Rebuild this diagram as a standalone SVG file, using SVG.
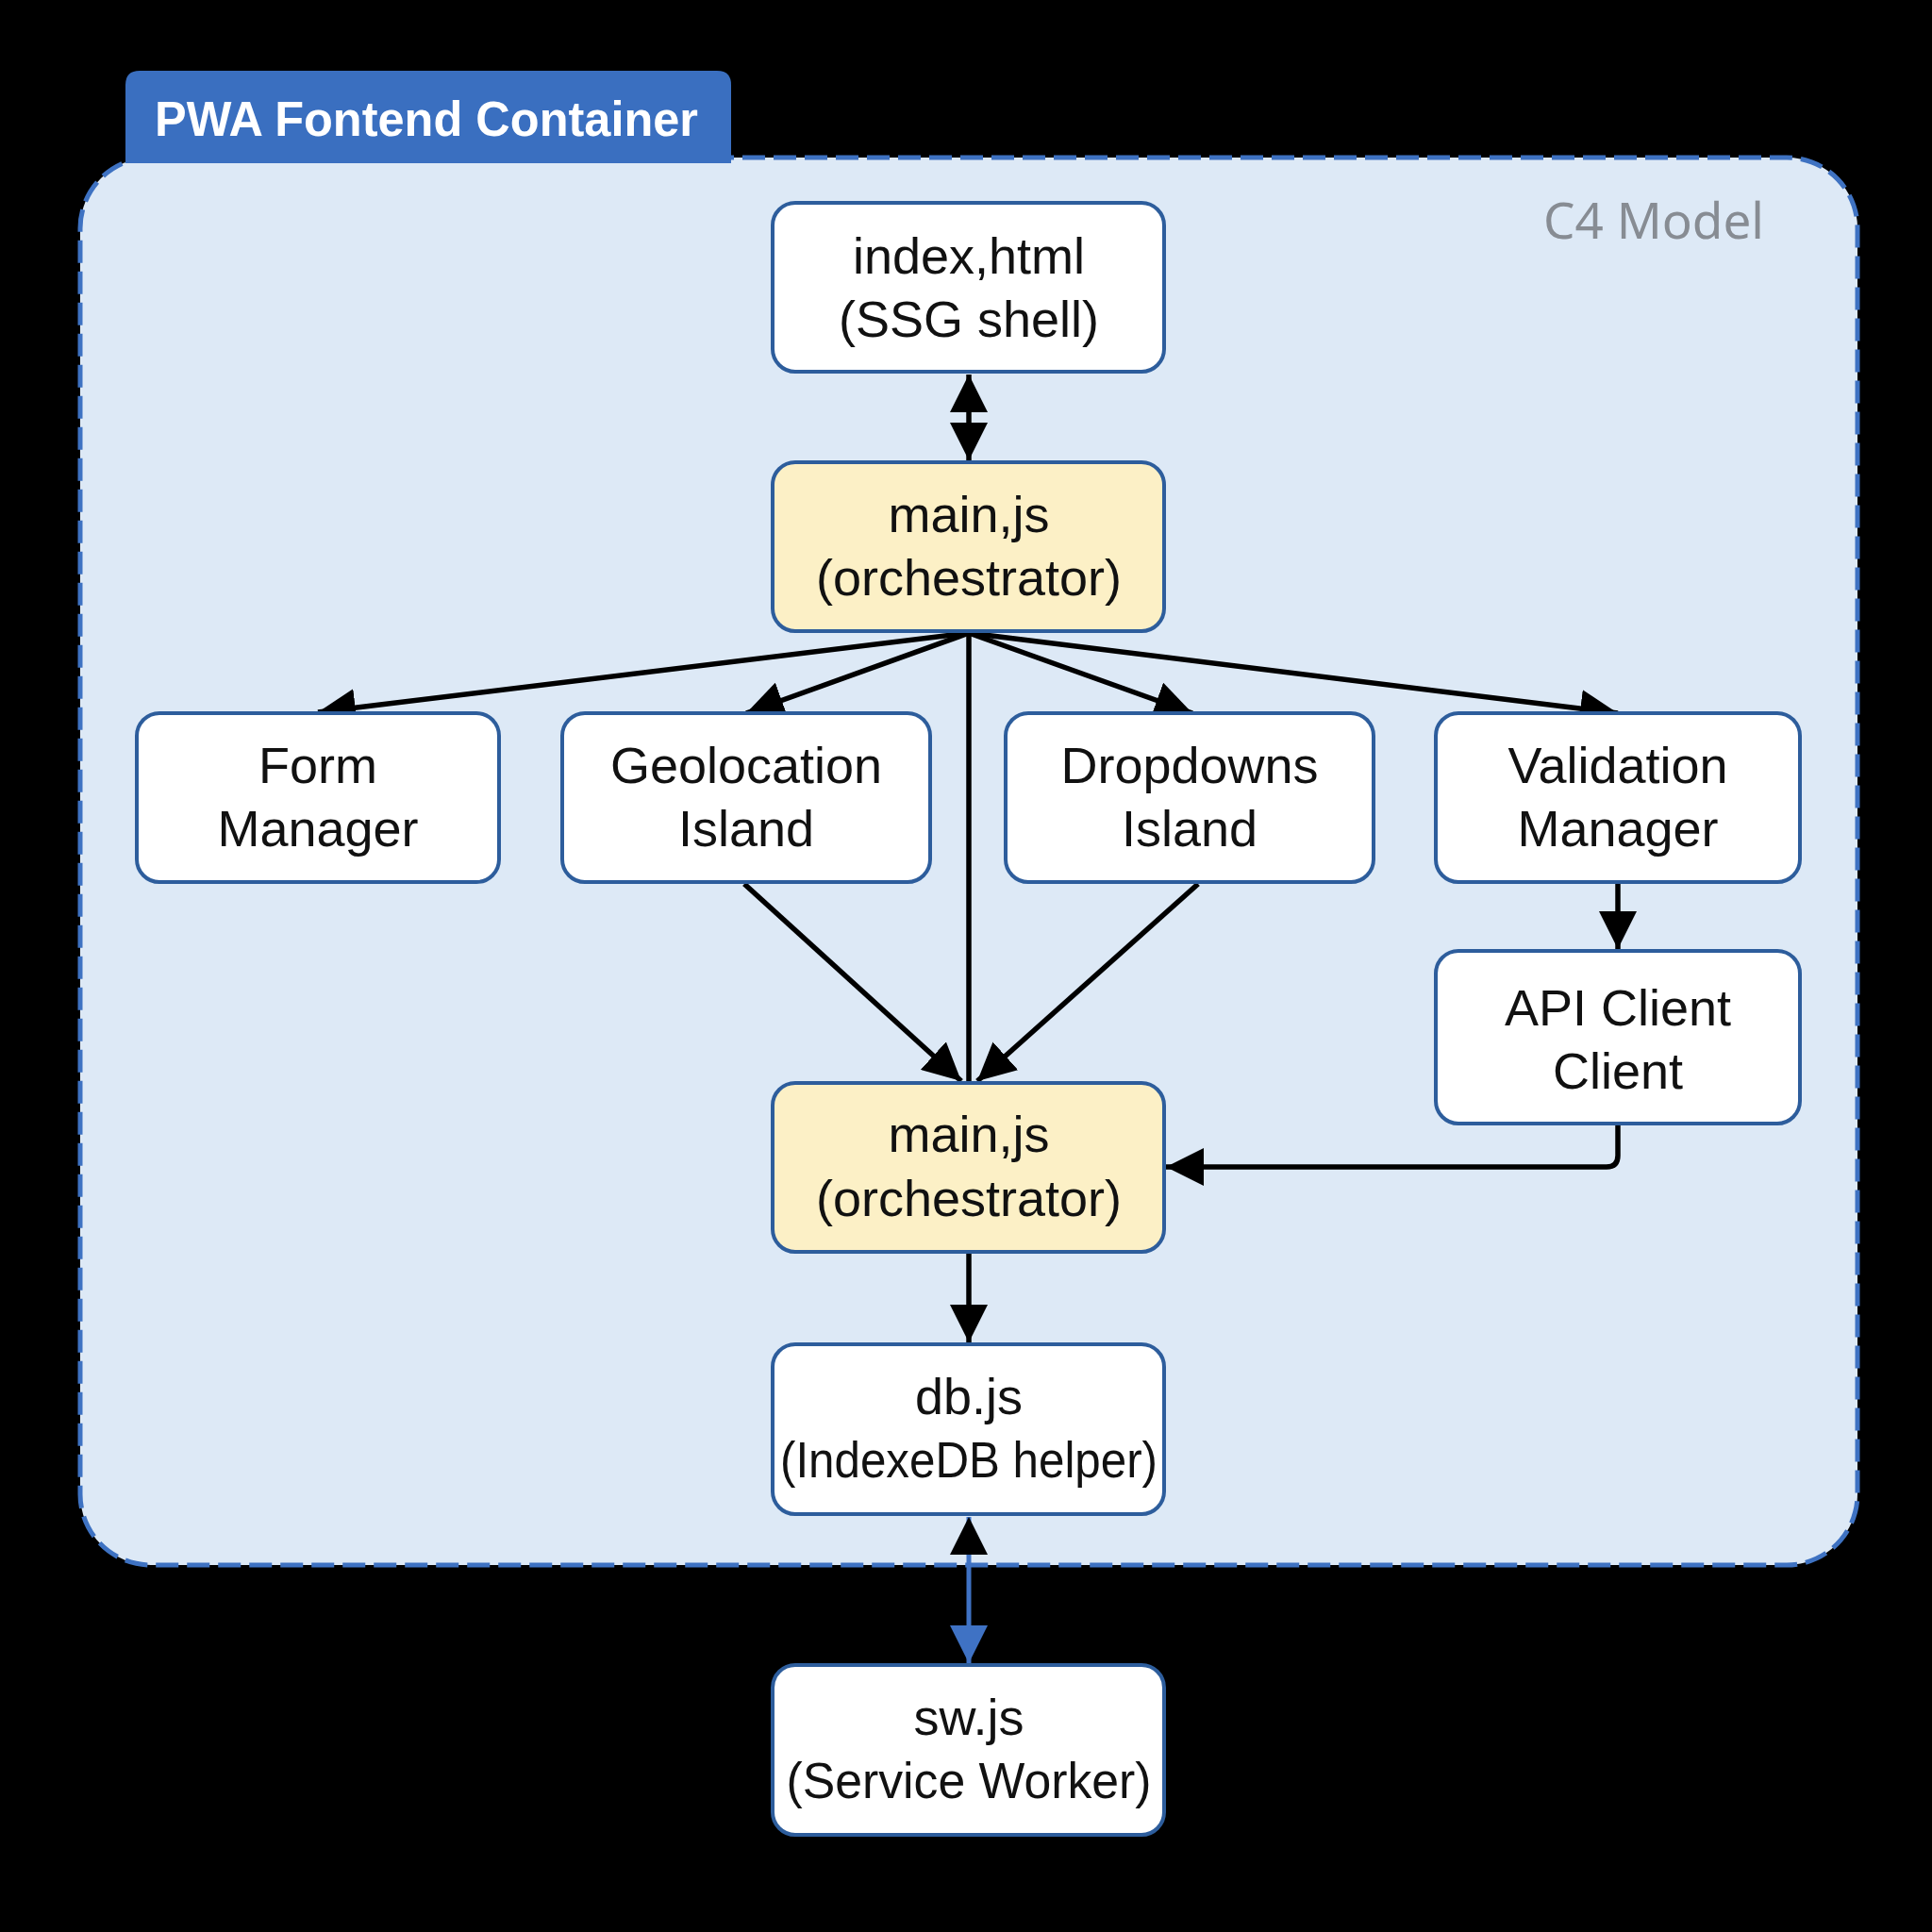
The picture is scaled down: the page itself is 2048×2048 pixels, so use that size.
<svg xmlns="http://www.w3.org/2000/svg" width="2048" height="2048" viewBox="0 0 2048 2048">
<style>
.node{fill:#ffffff;stroke:#2d5d9c;stroke-width:4}
.hub{fill:#fcf0c6;stroke:#2d5d9c;stroke-width:4}
.lbl{font-family:"Liberation Sans",Arial,sans-serif;font-size:54px;fill:#111;text-anchor:middle}
.edge{fill:none;stroke:#000;stroke-width:5.5}
</style>
<defs>
<marker id="ah" viewBox="0 0 10 10" refX="10" refY="5" markerWidth="40" markerHeight="40" markerUnits="userSpaceOnUse" orient="auto-start-reverse"><path d="M0,0 L10,5 L0,10 Z" fill="#000"/></marker>
<marker id="ahb" viewBox="0 0 10 10" refX="10" refY="5" markerWidth="40" markerHeight="40" markerUnits="userSpaceOnUse" orient="auto-start-reverse"><path d="M0,0 L10,5 L0,10 Z" fill="#3f72c4"/></marker>
</defs>
<rect x="0" y="0" width="2048" height="2048" fill="#000"/>
<g id="container">
<rect x="85" y="167" width="1884" height="1492" rx="75" ry="75" fill="#dde9f6" stroke="#3e72c2" stroke-width="5" stroke-dasharray="24 9"/>
<path d="M133,173 L133,90 Q133,75 148,75 L760,75 Q775,75 775,90 L775,173 Z" fill="#3a6fc0"/>
<text x="164" y="144" font-family="Liberation Sans,Arial,sans-serif" font-weight="bold" font-size="52" fill="#fff" textLength="576" lengthAdjust="spacingAndGlyphs">PWA Fontend Container</text>
<text x="1870" y="253" font-family="'Noto Sans','Open Sans',sans-serif" font-size="53" fill="#878c93" text-anchor="end">C4 Model</text>
</g>
<g id="connectors">
<path class="edge" d="M1027,397 L1027,488" stroke-width="6" marker-start="url(#ah)" marker-end="url(#ah)"/>
<path class="edge" d="M1027,671 L337,755" marker-end="url(#ah)"/>
<path class="edge" d="M1027,671 L791,756" marker-end="url(#ah)"/>
<path class="edge" d="M1027,671 L1264,756" marker-end="url(#ah)"/>
<path class="edge" d="M1027,671 L1715,756" marker-end="url(#ah)"/>
<path class="edge" d="M1027,671 L1027,1146" stroke-width="3.5"/>
<path class="edge" d="M789,937 L1019,1146" marker-end="url(#ah)"/>
<path class="edge" d="M1270,937 L1036,1146" marker-end="url(#ah)"/>
<path class="edge" d="M1715,937 L1715,1006" stroke-width="4" marker-end="url(#ah)"/>
<path class="edge" d="M1715,1193 L1715,1225 Q1715,1237 1703,1237 L1236,1237" marker-end="url(#ah)"/>
<path class="edge" d="M1027,1329 L1027,1423" stroke-width="4" marker-end="url(#ah)"/>
<path d="M1027,1608 L1027,1763" fill="none" stroke="#3f72c4" stroke-width="5" marker-start="url(#ah)" marker-end="url(#ahb)"/>
</g>
<g id="index-html">
<rect class="node" x="819" y="215" width="415" height="179" rx="24"/>
<text class="lbl" x="1027" y="290">index,html</text>
<text class="lbl" x="1027" y="357">(SSG shell)</text>
</g>
<g id="main-js-top">
<rect class="hub" x="819" y="490" width="415" height="179" rx="24"/>
<text class="lbl" x="1027" y="564">main,js</text>
<text class="lbl" x="1027" y="631">(orchestrator)</text>
</g>
<g id="form-manager">
<rect class="node" x="145" y="756" width="384" height="179" rx="24"/>
<text class="lbl" x="337" y="830">Form</text>
<text class="lbl" x="337" y="897">Manager</text>
</g>
<g id="geolocation-island">
<rect class="node" x="596" y="756" width="390" height="179" rx="24"/>
<text class="lbl" x="791" y="830">Geolocation</text>
<text class="lbl" x="791" y="897">Island</text>
</g>
<g id="dropdowns-island">
<rect class="node" x="1066" y="756" width="390" height="179" rx="24"/>
<text class="lbl" x="1261" y="830">Dropdowns</text>
<text class="lbl" x="1261" y="897">Island</text>
</g>
<g id="validation-manager">
<rect class="node" x="1522" y="756" width="386" height="179" rx="24"/>
<text class="lbl" x="1715" y="830">Validation</text>
<text class="lbl" x="1715" y="897">Manager</text>
</g>
<g id="api-client">
<rect class="node" x="1522" y="1008" width="386" height="183" rx="24"/>
<text class="lbl" x="1715" y="1087">API Client</text>
<text class="lbl" x="1715" y="1154">Client</text>
</g>
<g id="main-js-bottom">
<rect class="hub" x="819" y="1148" width="415" height="179" rx="24"/>
<text class="lbl" x="1027" y="1221">main,js</text>
<text class="lbl" x="1027" y="1289">(orchestrator)</text>
</g>
<g id="db-js">
<rect class="node" x="819" y="1425" width="415" height="180" rx="24"/>
<text class="lbl" x="1027" y="1499">db.js</text>
<text class="lbl" x="1027" y="1566" textLength="400" lengthAdjust="spacingAndGlyphs">(IndexeDB helper)</text>
</g>
<g id="sw-js">
<rect class="node" x="819" y="1765" width="415" height="180" rx="24"/>
<text class="lbl" x="1027" y="1839">sw.js</text>
<text class="lbl" x="1027" y="1906" textLength="387" lengthAdjust="spacingAndGlyphs">(Service Worker)</text>
</g>
</svg>
